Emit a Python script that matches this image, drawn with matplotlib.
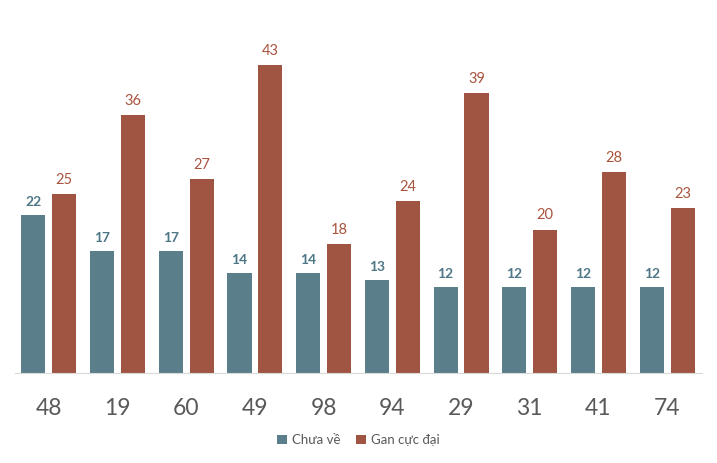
import numpy as np
import matplotlib.pyplot as plt

# data
numbers = ["48", "19", "60", "49", "98", "94", "29", "31", "41", "74"]
chua_ve = [22, 17, 17, 14, 14, 13, 12, 12, 12, 12]
gan_cuc_dai = [25, 36, 27, 43, 18, 24, 39, 20, 28, 23]

teal = "#5A7F8A"
rust = "#A05442"

plt.rcParams['font.family'] = ['Lato', 'DejaVu Sans']

fig = plt.figure(figsize=(7.17, 4.63), dpi=100)
ax = fig.add_axes([14.5 / 717, 1 - 373 / 463, 687 / 717, (373 - 29) / 463])

x = np.arange(len(numbers))
w = 0.35
off = 0.225
b1 = ax.bar(x - off, chua_ve, w, color=teal, label="Chưa về")
b2 = ax.bar(x + off, gan_cuc_dai, w, color=rust, label="Gan cực đại")

# value labels above bars
for rect, v in zip(b1, chua_ve):
    ax.text(rect.get_x() + rect.get_width() / 2, v + 1.0, str(v),
            ha="center", va="bottom", fontsize=10, fontweight="bold", color="#4E7786")
for rect, v in zip(b2, gan_cuc_dai):
    ax.text(rect.get_x() + rect.get_width() / 2, v + 1.0, str(v),
            ha="center", va="bottom", fontsize=10.5, color="#A8543E")

ax.set_xlim(-0.5, len(numbers) - 0.5)
ax.set_ylim(0, 48)
ax.set_xticks(x)
ax.set_xticklabels(numbers, fontsize=16.5, color="#595959")
ax.tick_params(axis="x", length=0, pad=18)
ax.set_yticks([])
for s in ["top", "right", "left"]:
    ax.spines[s].set_visible(False)
ax.spines["bottom"].set_color("#D9D9D9")

fig.legend(loc="center", bbox_to_anchor=(0.5, 1 - 440 / 463), ncol=2, frameon=False,
           fontsize=9.5, handlelength=0.7, handleheight=0.7, handletextpad=0.4,
           columnspacing=1.2, labelcolor="#595959")

fig.savefig("out.png", dpi=100)
